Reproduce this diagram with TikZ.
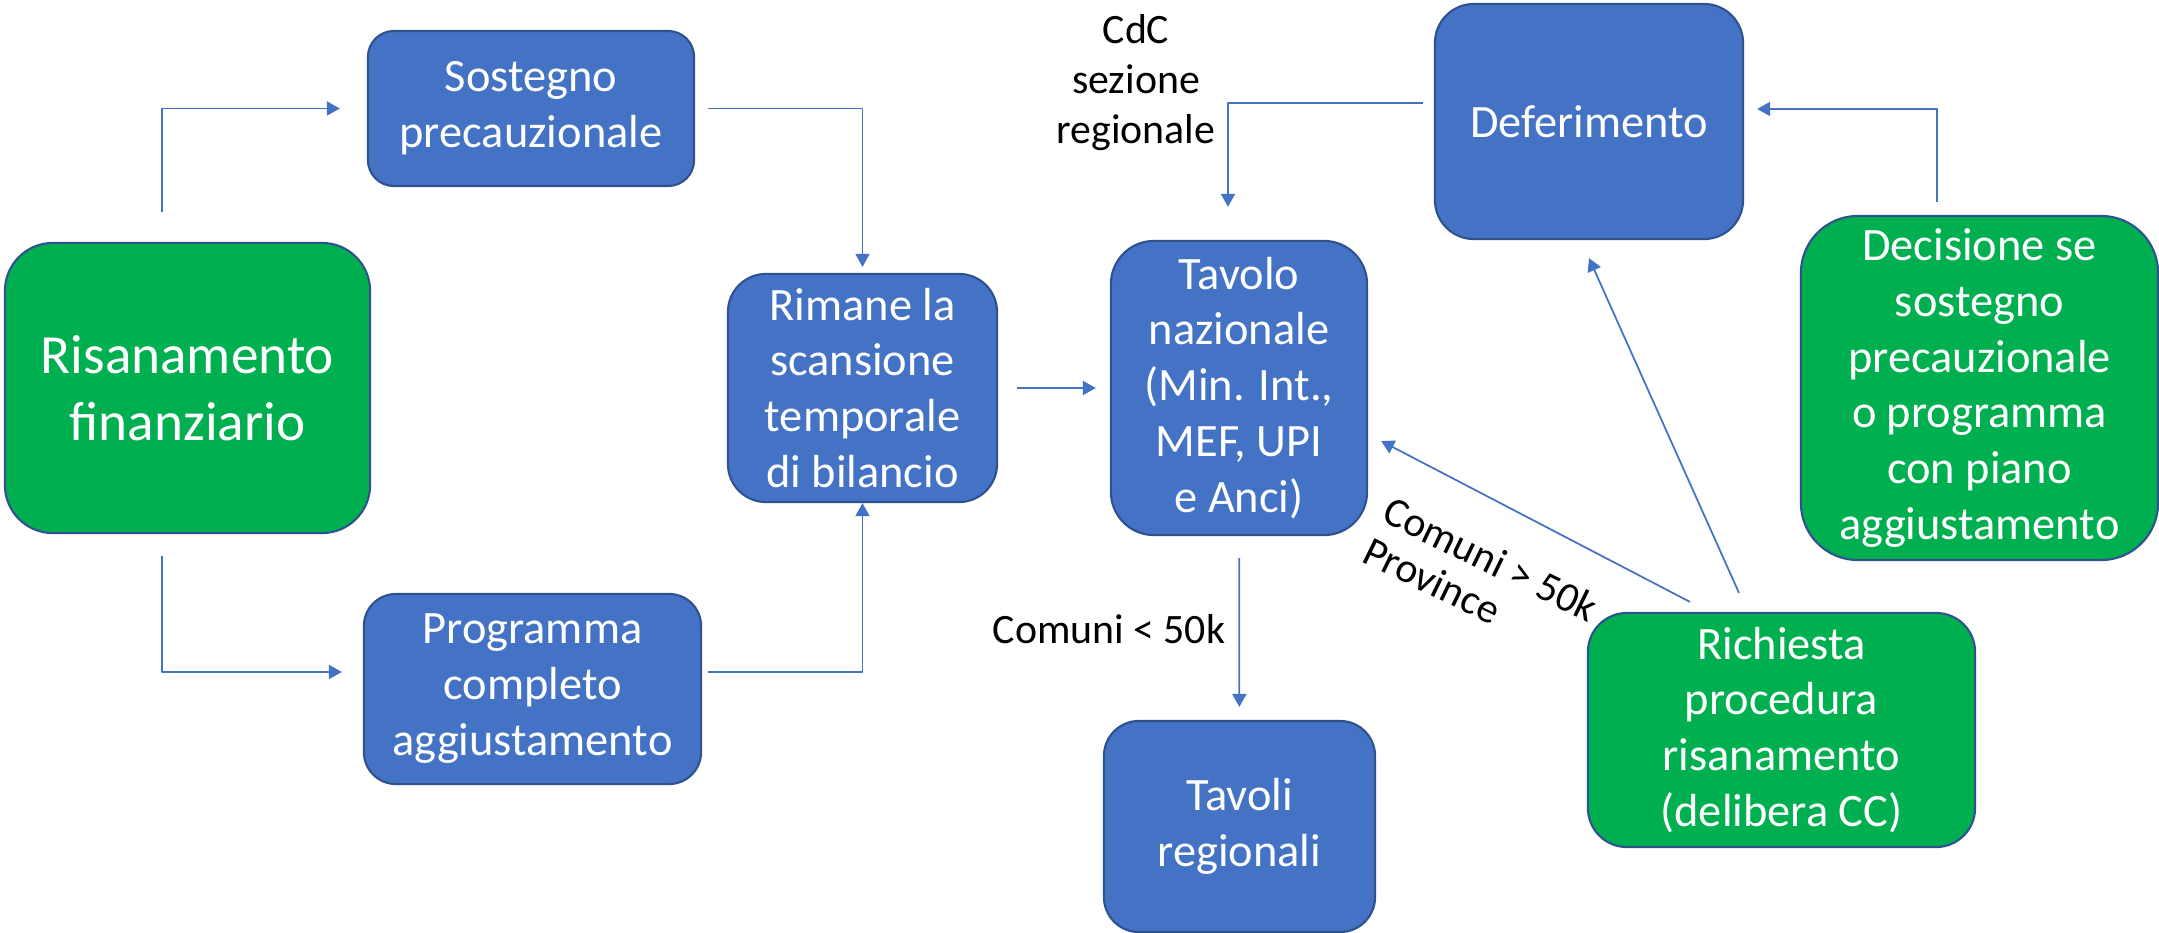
\documentclass[tikz,border=0pt]{standalone}
\usepackage{fontspec}
\setmainfont{Carlito}
\usetikzlibrary{arrows.meta}
\definecolor{blu}{HTML}{4472C4}
\definecolor{bordo}{HTML}{2F528F}
\definecolor{verde}{HTML}{00B050}
\begin{document}
\begin{tikzpicture}[x=0.01cm, y=-0.01cm, >={Triangle[length=3.7pt, width=4pt]}, line join=round,
	scatola/.style={draw=bordo, line width=0.6pt, text=white, align=center, inner sep=0pt,
		font=\fontsize{13.2}{15.9}\selectfont},
	boxblu/.style={scatola, fill=blu},
	boxverde/.style={scatola, fill=verde},
	freccia/.style={->, draw=blu, line width=0.5pt},
	etichetta/.style={align=center, font=\fontsize{11.9}{14.2}\selectfont}]
	%% Cornice
	\useasboundingbox (0,0) rectangle (2159,933);
	%% Riquadri
	\node[boxverde, minimum width=3.65cm, minimum height=2.9cm, rounded corners=0.48cm,
		font=\fontsize{15.7}{19.1}\selectfont] (risan) at (187.5,388) {Risanamento\\finanziario};
	\node[boxblu, minimum width=3.26cm, minimum height=1.55cm, rounded corners=0.26cm] (sost) at (531,108.5) {Sostegno\\precauzionale};
	\node[boxblu, minimum width=2.69cm, minimum height=2.28cm, rounded corners=0.38cm] (rimane) at (862.5,388) {Rimane la\\scansione\\temporale\\di bilancio};
	\node[boxblu, minimum width=3.37cm, minimum height=1.9cm, rounded corners=0.32cm] (progr) at (532.5,689) {Programma\\completo\\aggiustamento};
	\node[boxblu, minimum width=2.56cm, minimum height=2.94cm, rounded corners=0.43cm] (tavnaz) at (1239,388) {Tavolo\\nazionale\\(Min. Int.,\\MEF, UPI\\e Anci)};
	\node[boxblu, minimum width=3.08cm, minimum height=2.35cm, rounded corners=0.39cm] (defer) at (1589,121.5) {Deferimento};
	\node[boxverde, minimum width=3.57cm, minimum height=3.44cm, rounded corners=0.57cm] (decis) at (1979.5,388) {Decisione se\\sostegno\\precauzionale\\o programma\\con piano\\aggiustamento};
	\node[boxblu, minimum width=2.71cm, minimum height=2.11cm, rounded corners=0.35cm] (tavreg) at (1239.5,826.5) {Tavoli\\regionali};
	\node[boxverde, minimum width=3.87cm, minimum height=2.34cm, rounded corners=0.39cm] (rich) at (1781.5,730) {Richiesta\\procedura\\risanamento\\(delibera CC)};
	%% Etichette
	\node[etichetta] (cdc) at (1136,83) {CdC\\sezione\\regionale};
	\node[etichetta] (piccoli) at (1109,629) {Comuni < 50k};
	\node[etichetta, align=left, rotate=-26, font=\fontsize{11.9}{12.8}\selectfont] (grandi) at (1481,579) {Comuni > 50k\\Province};
	%% Frecce
	\coordinate (r1) at (162,212);
	\coordinate (r2) at (162,556);
	\draw[freccia, shorten >=0.27cm] (r1) |- (sost);
	\draw[freccia, shorten >=0.21cm] (r2) |- ([yshift=0.17cm]progr.west);
	\draw[freccia, shorten <=0.13cm, shorten >=0.06cm] (sost) -| (rimane);
	\draw[freccia, shorten <=0.06cm] ([yshift=0.17cm]progr.east) -| (rimane);
	\draw[freccia, shorten <=0.19cm, shorten >=0.14cm] (rimane) -- (tavnaz);
	\draw[freccia, shorten <=0.11cm, shorten >=0.33cm] ([yshift=0.185cm]defer.west) -| ([xshift=-0.11cm]tavnaz.north);
	\draw[freccia, shorten <=0.13cm, shorten >=0.13cm] ([xshift=-0.425cm]decis.north) |- ([yshift=0.125cm]defer.east);
	\draw[freccia] ([xshift=-0.915cm, yshift=0.1cm]rich.north) -- ([xshift=0.13cm, yshift=-0.53cm]tavnaz.east);
	\draw[freccia] ([xshift=-0.425cm, yshift=0.19cm]rich.north) -- ([yshift=-0.18cm]defer.south);
	\draw[freccia, shorten <=0.22cm, shorten >=0.13cm] (tavnaz) -- (tavreg);
\end{tikzpicture}
\end{document}
